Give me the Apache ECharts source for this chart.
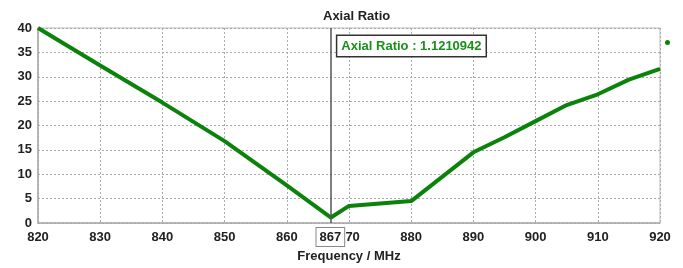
<!DOCTYPE html>
<html>
<head>
<meta charset="utf-8">
<script src="https://cdn.jsdelivr.net/npm/echarts@6/dist/echarts.min.js"></script>
<style>html,body{margin:0;padding:0;background:#fff;}#c{width:683px;height:268px;}</style>
</head>
<body>
<div id="c"></div>
<script>
const freqs = [820, 830, 840, 850, 860, 867.1, 870, 880, 890, 895, 900, 905, 910, 915, 920];
const ratios = [40, 32.3, 24.7, 16.8, 7.7, 1.1210942, 3.5, 4.5, 14.5, 17.6, 20.9, 24.2, 26.4, 29.4, 31.6];
const markerFreq = 867;
const markerLabel = 'Axial Ratio : 1.1210942';
const xTicks = { min: 820, max: 920, interval: 10 };
const yTicks = { min: 0, max: 40, interval: 5 };

const chart = echarts.init(document.getElementById('c'), null, { renderer: 'canvas' });
const font = 'Liberation Sans';
chart.setOption({
  animation: false,
  backgroundColor: '#fff',
  title: {
    text: 'Axial Ratio', left: 318, top: 5,
    textStyle: { fontFamily: font, fontWeight: 'bold', fontSize: 13, color: '#222' }
  },
  legend: {
    data: ['Axial Ratio'], right: 8, top: 35, icon: 'circle',
    itemWidth: 5, itemHeight: 5, formatter: () => '', itemGap: 0,
    textStyle: { fontSize: 1 }
  },
  grid: { left: 38, right: 23, top: 28, bottom: 44, show: true, borderColor: '#bbb', borderWidth: 1 },
  xAxis: {
    type: 'value', min: xTicks.min, max: xTicks.max, interval: xTicks.interval,
    name: 'Frequency / MHz', nameLocation: 'middle', nameGap: 27,
    nameTextStyle: { fontFamily: font, fontWeight: 'bold', fontSize: 13, color: '#222' },
    axisLine: { lineStyle: { color: '#aaa', width: 1.5 } },
    axisTick: { show: false },
    axisLabel: { fontFamily: font, fontWeight: 'bold', fontSize: 13, color: '#222', margin: 8 },
    splitLine: { show: true, lineStyle: { color: '#aaa', type: [2, 2], width: 1 } }
  },
  yAxis: {
    type: 'value', min: yTicks.min, max: yTicks.max, interval: yTicks.interval,
    axisLine: { show: true, lineStyle: { color: '#aaa', width: 1.5 } },
    axisTick: { show: false },
    axisLabel: { fontFamily: font, fontWeight: 'bold', fontSize: 13, color: '#222', margin: 6 },
    splitLine: { show: true, lineStyle: { color: '#aaa', type: [2, 2], width: 1 } }
  },
  series: [{
    name: 'Axial Ratio',
    type: 'line',
    data: freqs.map((f, i) => [f, ratios[i]]),
    showSymbol: false,
    itemStyle: { color: '#0b830b' },
    lineStyle: { color: '#0b830b', width: 4 },
    markLine: {
      silent: true, symbol: 'none',
      lineStyle: { color: '#555', width: 1.5, type: 'solid' },
      label: {
        show: true, position: 'start', formatter: String(markerFreq), distance: 5,
        fontFamily: font, fontWeight: 'bold', fontSize: 13, color: '#222',
        backgroundColor: '#fff', borderColor: '#888', borderWidth: 1, padding: [3, 3, 2, 3]
      },
      data: [{ xAxis: markerFreq }]
    },
    markPoint: {
      silent: true, symbol: 'circle', symbolSize: 0,
      label: {
        show: true, position: 'right', distance: 7, formatter: markerLabel,
        fontFamily: font, fontWeight: 'bold', fontSize: 13, color: '#1b8f1b',
        backgroundColor: '#fff', borderColor: '#333', borderWidth: 1.5, padding: [4, 4, 3, 4]
      },
      data: [{ coord: [markerFreq, 36.3] }]
    }
  }]
});
</script>
</body>
</html>
